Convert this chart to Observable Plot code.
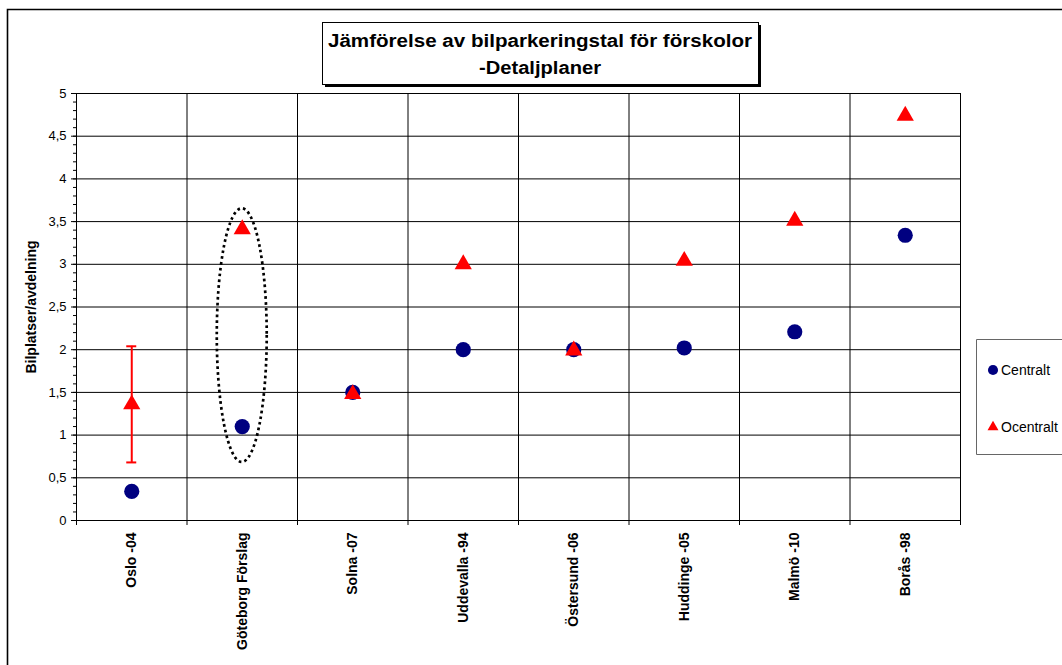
<!DOCTYPE html>
<html>
<head>
<meta charset="utf-8">
<script src="https://cdn.jsdelivr.net/npm/d3@7"></script>
<script src="https://cdn.jsdelivr.net/npm/@observablehq/plot@0.6"></script>
<style>
  html, body { margin: 0; padding: 0; background: #fff; overflow: hidden; }
  #chart svg { display: block; }
</style>
</head>
<body>
<div id="chart"></div>
<script>
// Parking ratios for preschools (car spaces per department), by detailed plan
const categories = ["Oslo -04", "Göteborg Förslag", "Solna -07", "Uddevalla -94", "Östersund -06", "Huddinge -05", "Malmö -10", "Borås -98"];
const centralt   = [0.34, 1.10, 1.50, 2.00, 2.00, 2.02, 2.21, 3.34];
const ocentralt  = [1.36, 3.41, 1.48, 3.00, 1.99, 3.04, 3.51, 4.74];
// Range shown for Oslo's non-central value
const ocentraltLow  = [0.68, null, null, null, null, null, null, null];
const ocentraltHigh = [2.04, null, null, null, null, null, null, null];
const yTicks = [0, 0.5, 1, 1.5, 2, 2.5, 3, 3.5, 4, 4.5, 5];
const yMinorTicks = d3.range(0, 51).map(d => d / 10);
const seriesNames = ["Centralt", "Ocentralt"];
const titleLines = ["Jämförelse av bilparkeringstal för förskolor", "-Detaljplaner"];
const yLabel = "Bilplatser/avdelning";
// Circled proposal and the value span the ring covers
const highlightCategory = "Göteborg Förslag";
const highlightLow = 0.68, highlightHigh = 3.65;

const rows = categories.map((name, i) => ({
  name, pos: i + 0.5,
  centralt: centralt[i], ocentralt: ocentralt[i],
  low: ocentraltLow[i], high: ocentraltHigh[i]
}));
const errRows = rows.filter(d => d.low != null && d.high != null);
const bandEdges = d3.range(categories.length + 1);
const fmt = d => String(d).replace(".", ",");

const NAVY = "#000080", RED = "#ff0000";
const FONT = '"Liberation Sans", Arial, Helvetica, sans-serif';

function highlightRing(index, {x, y}) {
  const i = categories.indexOf(highlightCategory);
  const band = x(1) - x(0);
  const top = y(highlightHigh), bottom = y(highlightLow);
  return d3.create("svg:ellipse")
    .attr("cx", x(i + 0.5))
    .attr("cy", (top + bottom) / 2)
    .attr("rx", band * 0.226)
    .attr("ry", (bottom - top) / 2)
    .attr("fill", "none")
    .attr("stroke", "black")
    .attr("stroke-width", 2.7)
    .attr("stroke-dasharray", "2.7 3.1")
    .node();
}

const chart = Plot.plot({
  width: 1062,
  height: 665,
  marginLeft: 76,
  marginRight: 102,
  marginTop: 93,
  marginBottom: 145,
  style: {fontFamily: FONT, background: "white", color: "black"},
  x: {domain: [0, categories.length], label: null},
  y: {domain: [0, 5], label: null},
  marks: [
    Plot.gridY(yTicks, {stroke: "black", strokeOpacity: 1}),
    Plot.gridX(bandEdges, {stroke: "black", strokeOpacity: 1}),
    Plot.axisY(yMinorTicks, {tickSize: 3, fill: "none", tickFormat: () => "", stroke: "black"}),
    Plot.axisY(yTicks, {tickSize: 5, tickPadding: 5, tickFormat: fmt, fontSize: 13, stroke: "black", fill: "black"}),
    Plot.axisX(bandEdges, {tickSize: 5, fill: "none", tickFormat: () => "", stroke: "black"}),
    Plot.axisX(rows.map(d => d.pos), {
      tickSize: 0, tickPadding: 12, tickRotate: -90,
      tickFormat: d => categories[Math.round(d - 0.5)],
      fontSize: 14, fontWeight: "bold", fill: "black"
    }),
    Plot.text([yLabel], {frameAnchor: "left", dx: -45, rotate: -90, textAnchor: "middle", fontSize: 14, fontWeight: "bold", fill: "black"}),
    highlightRing,
    Plot.dot(rows, {x: "pos", y: "centralt", r: 7.6, fill: NAVY, stroke: "none"}),
    Plot.ruleX(errRows, {x: "pos", y1: "low", y2: "high", stroke: RED, strokeWidth: 2}),
    Plot.ruleY(errRows, {y: "low", x1: "pos", x2: "pos", insetLeft: -5, insetRight: -5, stroke: RED, strokeWidth: 2}),
    Plot.ruleY(errRows, {y: "high", x1: "pos", x2: "pos", insetLeft: -5, insetRight: -5, stroke: RED, strokeWidth: 2}),
    Plot.dot(rows, {x: "pos", y: "ocentralt", symbol: "triangle", r: 6.4, fill: RED, stroke: "none"})
  ]
});

const svg = d3.select(chart);

// Chart area border (runs off the right and bottom edges)
svg.append("path")
  .attr("d", "M1062,9.5H7.5V665")
  .attr("fill", "none").attr("stroke", "black").attr("stroke-width", 1.6);

// Title box with drop shadow
const title = svg.append("g").attr("font-family", FONT).attr("font-weight", "bold");
title.append("rect").attr("x", 325).attr("y", 25).attr("width", 436).attr("height", 62).attr("fill", "black");
title.append("rect").attr("x", 322.5).attr("y", 22.5).attr("width", 436).attr("height", 62)
  .attr("fill", "white").attr("stroke", "black").attr("stroke-width", 1);
title.selectAll("text").data(titleLines).join("text")
  .attr("x", 540)
  .attr("y", (d, i) => 47 + i * 27)
  .attr("text-anchor", "middle")
  .attr("font-size", 18)
  .attr("textLength", (d, i) => i === 0 ? 424 : 122)
  .attr("lengthAdjust", "spacingAndGlyphs")
  .attr("fill", "black")
  .text(d => d);

// Legend (box runs off the right edge)
const legend = svg.append("g").attr("font-family", FONT).attr("font-size", 14);
legend.append("path")
  .attr("d", "M1062,339.5H976.5V454.5H1062")
  .attr("fill", "white").attr("stroke", "#666").attr("stroke-width", 1);
const entries = legend.selectAll("g.entry").data(seriesNames).join("g")
  .attr("class", "entry")
  .attr("transform", (d, i) => `translate(993,${370 + i * 57})`);
entries.append("path")
  .attr("d", (d, i) => d3.symbol(i === 0 ? d3.symbolCircle : d3.symbolTriangle, i === 0 ? 80 : 52)())
  .attr("fill", (d, i) => i === 0 ? NAVY : RED);
entries.append("text")
  .attr("x", 8).attr("y", 5)
  .attr("text-anchor", "start")
  .attr("fill", "black")
  .text(d => d);

document.getElementById("chart").appendChild(chart);
</script>
</body>
</html>
